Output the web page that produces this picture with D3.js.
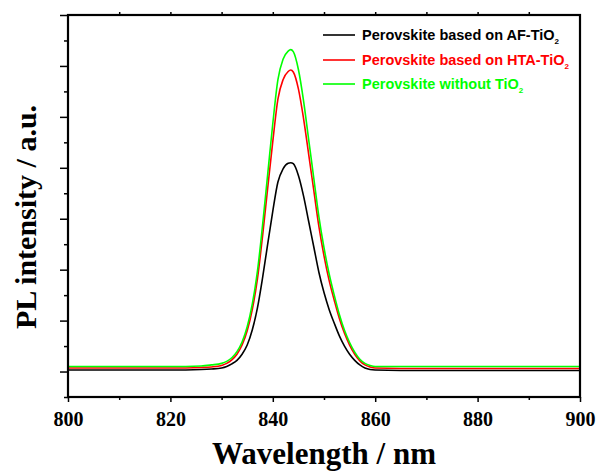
<!DOCTYPE html>
<html lang="en">
<head>
<meta charset="UTF-8">
<title>PL spectra</title>
<style>
  body { margin: 0; background: #fff; }
  svg { display: block; }
</style>
</head>
<body>
<script src="https://d3js.org/d3.v7.min.js"></script>
<div id="chart"></div>
<script>
const wavelength = [800, 810, 820, 826, 828, 830, 831, 832, 833, 834, 835, 836, 837, 838, 839, 840, 841, 842, 843, 843.5,
  844, 845, 846, 847, 848, 849, 850, 851, 852, 853, 854, 855, 856, 857, 858, 859, 860, 870, 880, 890, 900];

// PL intensity (a.u.)
const afTiO2 = [0.03, 0.03, 0.03, 0.04, 0.05, 0.07, 0.10, 0.15, 0.22, 0.34, 0.52, 0.82, 1.25, 1.84, 2.50, 3.15, 3.72, 3.98, 4.09, 4.10,
  4.08, 3.85, 3.45, 2.95, 2.45, 1.95, 1.55, 1.22, 0.95, 0.70, 0.50, 0.34, 0.22, 0.13, 0.07, 0.04, 0.03, 0.02, 0.02, 0.02, 0.02];
const htaTiO2 = [0.07, 0.07, 0.07, 0.08, 0.09, 0.12, 0.16, 0.23, 0.34, 0.52, 0.80, 1.22, 1.82, 2.66, 3.60, 4.52, 5.35, 5.73, 5.89, 5.92,
  5.88, 5.55, 4.97, 4.27, 3.56, 2.85, 2.27, 1.79, 1.40, 1.04, 0.75, 0.52, 0.34, 0.21, 0.13, 0.09, 0.07, 0.06, 0.06, 0.06, 0.06];
const noTiO2 = [0.10, 0.10, 0.10, 0.11, 0.13, 0.16, 0.20, 0.27, 0.39, 0.58, 0.88, 1.33, 1.97, 2.87, 3.87, 4.87, 5.73, 6.13, 6.29, 6.32,
  6.28, 5.93, 5.32, 4.56, 3.80, 3.04, 2.43, 1.92, 1.50, 1.12, 0.81, 0.57, 0.38, 0.24, 0.16, 0.12, 0.10, 0.10, 0.10, 0.10, 0.10];

const seriesNames = ["Perovskite based on AF-TiO", "Perovskite based on HTA-TiO", "Perovskite without TiO"];
const seriesColors = ["#000000", "#ff0000", "#00ff00"];
const seriesValues = [afTiO2, htaTiO2, noTiO2];

const xTickLabels = [800, 820, 840, 860, 880, 900];

const width = 598, height = 476;
const margin = {top: 15, right: 18, bottom: 79, left: 68};

const svg = d3.select("#chart").append("svg")
  .attr("width", width)
  .attr("height", height);

const x = d3.scaleLinear().domain([800, 900]).range([margin.left, width - margin.right]);
const y = d3.scaleLinear().domain([-0.5, 7]).range([height - margin.bottom, margin.top]);

const serif = "'Liberation Serif', 'Times New Roman', serif";
const sans = "'Liberation Sans', Arial, sans-serif";

// curves
const line = d3.line()
  .x((d, i) => x(wavelength[i]))
  .y(d => y(d))
  .curve(d3.curveMonotoneX);

seriesValues.forEach((vals, k) => {
  svg.append("path")
    .attr("d", line(vals))
    .attr("fill", "none")
    .attr("stroke", seriesColors[k])
    .attr("stroke-width", 1.6);
});

// bottom axis: major ticks with labels, minor ticks between
const xMinor = d3.range(810, 900, 20);
svg.append("g")
  .attr("transform", `translate(0,${y(-0.5)})`)
  .call(d3.axisBottom(x).tickValues(xMinor).tickSize(3).tickFormat(""))
  .call(g => g.select(".domain").remove())
  .selectAll("line").attr("stroke-width", 1.5);

const xAxis = svg.append("g")
  .attr("transform", `translate(0,${y(-0.5)})`)
  .call(d3.axisBottom(x).tickValues(xTickLabels).tickSize(5).tickPadding(10));
xAxis.select(".domain").remove();
xAxis.selectAll("line").attr("stroke-width", 1.5);
xAxis.selectAll("text")
  .style("font-family", serif)
  .style("font-weight", "bold")
  .style("font-size", "20px")
  .attr("fill", "#000");

// top axis ticks
svg.append("g")
  .attr("transform", `translate(0,${y(7)})`)
  .call(d3.axisTop(x).tickValues(d3.range(810, 900, 10)).tickSize(3).tickFormat(""))
  .call(g => g.select(".domain").remove())
  .selectAll("line").attr("stroke-width", 1.5);

// left axis ticks (no labels)
svg.append("g")
  .attr("transform", `translate(${x(800)},0)`)
  .call(d3.axisLeft(y).tickValues(d3.range(0, 7.01, 1)).tickSize(8).tickFormat(""))
  .call(g => g.select(".domain").remove())
  .selectAll("line").attr("stroke-width", 1.5);
svg.append("g")
  .attr("transform", `translate(${x(800)},0)`)
  .call(d3.axisLeft(y).tickValues(d3.range(-0.5, 7, 1)).tickSize(4).tickFormat(""))
  .call(g => g.select(".domain").remove())
  .selectAll("line").attr("stroke-width", 1.5);

// frame
svg.append("rect")
  .attr("x", x(800))
  .attr("y", y(7))
  .attr("width", x(900) - x(800))
  .attr("height", y(-0.5) - y(7))
  .attr("fill", "none")
  .attr("stroke", "#000")
  .attr("stroke-width", 2.2);

// axis titles
svg.append("text")
  .attr("x", (x(800) + x(900)) / 2)
  .attr("y", 464)
  .attr("text-anchor", "middle")
  .style("font-family", serif)
  .style("font-weight", "bold")
  .style("font-size", "31px")
  .text("Wavelength / nm");

svg.append("text")
  .attr("transform", "translate(36,217) rotate(-90)")
  .attr("text-anchor", "middle")
  .style("font-family", serif)
  .style("font-weight", "bold")
  .style("font-size", "30px")
  .text("PL intensity / a.u.");

// legend
const legendY = [35, 60, 84];
seriesNames.forEach((name, k) => {
  const g = svg.append("g").attr("transform", `translate(323,${legendY[k]})`);
  g.append("line")
    .attr("x1", 0).attr("x2", 32)
    .attr("stroke", seriesColors[k])
    .attr("stroke-width", 1.6);
  const t = g.append("text")
    .attr("x", 39)
    .attr("y", 5)
    .style("font-family", sans)
    .style("font-weight", "bold")
    .style("font-size", "14.5px")
    .attr("fill", seriesColors[k]);
  t.append("tspan").text(name);
  t.append("tspan").attr("dy", 4).style("font-size", "8px").text("2");
});
</script>
</body>
</html>
